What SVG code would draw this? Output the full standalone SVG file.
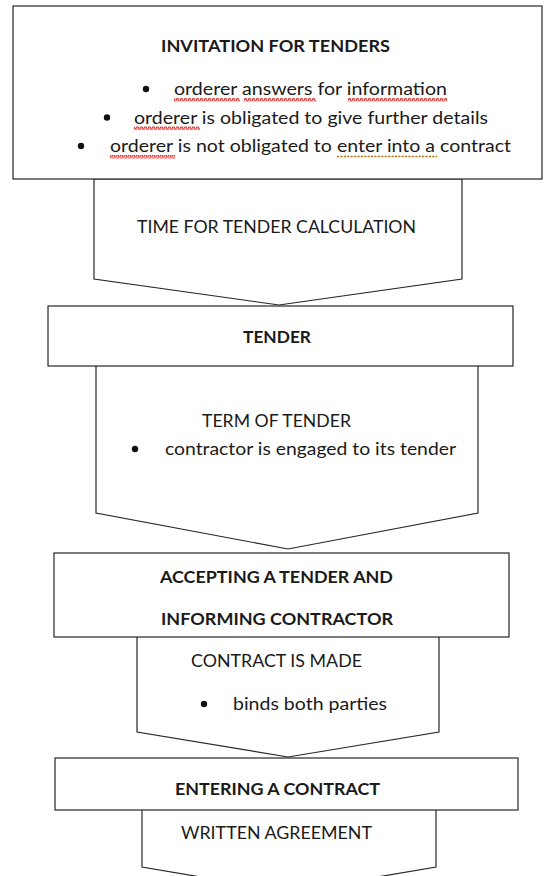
<svg xmlns="http://www.w3.org/2000/svg" width="544" height="876" viewBox="0 0 544 876">
<style>
.shape{fill:#ffffff;stroke:#262626;stroke-width:1.2}
.t{font-family:Lato,"Liberation Sans",sans-serif;font-size:17.5px;fill:#1a1a1a}
.b{font-weight:bold}
.dot{fill:#111}
.sq{fill:url(#wave)}
.gram{stroke:#a87a1c;stroke-width:1.7;stroke-dasharray:2.2 1.2;fill:none}
</style>
<defs>
<pattern id="wave" patternUnits="userSpaceOnUse" width="4" height="3.5">
<path d="M0,2.8 L1,0.7 L2,0.7 L3,2.8 L4,2.8" fill="none" stroke="#e0302a" stroke-width="1.2"/>
</pattern>
</defs>
<rect width="544" height="876" fill="#ffffff"/>
<g id="connectors"></g>
<g id="node-time">
<polygon class="shape" points="94,179 94,279 279,305 462,279 462,179"/>
<text class="t" x="137" y="233" textLength="279" lengthAdjust="spacingAndGlyphs">TIME FOR TENDER CALCULATION</text>
</g>
<g id="node-invitation">
<rect class="shape" x="13" y="6" width="529" height="173"/>
<text class="t b" x="161" y="52" textLength="229" lengthAdjust="spacingAndGlyphs">INVITATION FOR TENDERS</text>
<circle class="dot" cx="146" cy="89" r="3.2"/>
<text class="t" x="174" y="95" textLength="273" lengthAdjust="spacingAndGlyphs">orderer answers for information</text>
<circle class="dot" cx="107" cy="117.5" r="3.2"/>
<text class="t" x="134" y="123.5" textLength="354" lengthAdjust="spacingAndGlyphs">orderer is obligated to give further details</text>
<circle class="dot" cx="81" cy="146" r="3.2"/>
<text class="t" x="110" y="152" textLength="401" lengthAdjust="spacingAndGlyphs">orderer is not obligated to enter into a contract</text>
<rect class="sq" x="174" y="98" width="66" height="3.5"/>
<rect class="sq" x="244" y="98" width="72" height="3.5"/>
<rect class="sq" x="348" y="98" width="99" height="3.5"/>
<rect class="sq" x="134" y="126.5" width="66" height="3.5"/>
<rect class="sq" x="110" y="155" width="65" height="3.5"/>
<line class="gram" x1="337" y1="156.5" x2="437" y2="156.5"/>
</g>
<g id="node-term">
<polygon class="shape" points="96,365 96,513 288,549 478,513 478,365"/>
<text class="t" x="202" y="427" textLength="149" lengthAdjust="spacingAndGlyphs">TERM OF TENDER</text>
<circle class="dot" cx="135" cy="449" r="3.2"/>
<text class="t" x="165" y="455" textLength="291" lengthAdjust="spacingAndGlyphs">contractor is engaged to its tender</text>
</g>
<g id="node-tender">
<rect class="shape" x="48" y="306" width="465" height="60"/>
<text class="t b" x="243" y="343" textLength="68" lengthAdjust="spacingAndGlyphs">TENDER</text>
</g>
<g id="node-contract-made">
<polygon class="shape" points="137,636 137,732 288,757 439,732 439,636"/>
<text class="t" x="191" y="667" textLength="171" lengthAdjust="spacingAndGlyphs">CONTRACT IS MADE</text>
<circle class="dot" cx="204" cy="704" r="3.2"/>
<text class="t" x="233" y="710" textLength="154" lengthAdjust="spacingAndGlyphs">binds both parties</text>
</g>
<g id="node-accepting">
<rect class="shape" x="54" y="553" width="455" height="84"/>
<text class="t b" x="160" y="583" textLength="233" lengthAdjust="spacingAndGlyphs">ACCEPTING A TENDER AND</text>
<text class="t b" x="161" y="625" textLength="232" lengthAdjust="spacingAndGlyphs">INFORMING CONTRACTOR</text>
</g>
<g id="node-written">
<polygon class="shape" points="142,809 142,867 289,892 436,867 436,809"/>
<text class="t" x="181" y="839" textLength="191" lengthAdjust="spacingAndGlyphs">WRITTEN AGREEMENT</text>
</g>
<g id="node-entering">
<rect class="shape" x="55" y="758" width="463" height="52"/>
<text class="t b" x="175" y="795" textLength="205" lengthAdjust="spacingAndGlyphs">ENTERING A CONTRACT</text>
</g>
</svg>
